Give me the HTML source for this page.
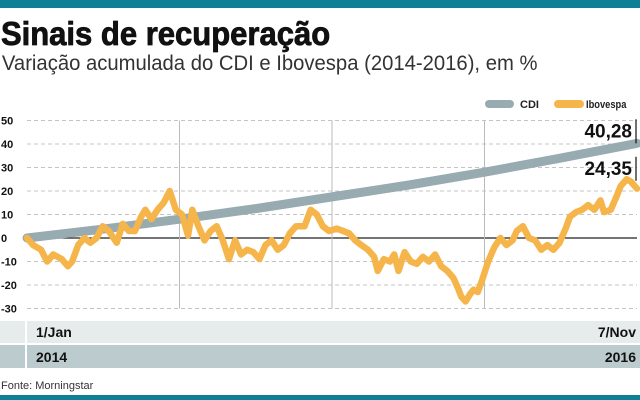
<!DOCTYPE html>
<html><head><meta charset="utf-8"><style>
body{margin:0;width:640px;height:400px;overflow:hidden;background:#fff;font-family:"Liberation Sans",sans-serif}
svg{display:block}
</style></head><body>
<svg id="c" width="640" height="400">
<rect x="0" y="0" width="640" height="8" fill="#0e7f95"/>
<text x="1" y="45" font-size="33" font-weight="bold" fill="#111" stroke="#111" stroke-width="0.8" transform="scale(0.94,1)">Sinais de recuperação</text>
<text x="2" y="70" font-size="21" fill="#333" transform="scale(0.965,1)">Variação acumulada do CDI e Ibovespa (2014-2016), em %</text>
<g>
<line x1="489" y1="104" x2="510" y2="104" stroke="#97abb0" stroke-width="8" stroke-linecap="round"/>
<text x="520" y="108" font-size="11" font-weight="bold" fill="#222">CDI</text>
<line x1="558" y1="104" x2="580" y2="104" stroke="#f5b54a" stroke-width="8" stroke-linecap="round"/>
<text x="586" y="108" font-size="11" font-weight="bold" fill="#222" transform="translate(586 0) scale(0.85,1) translate(-586 0)">Ibovespa</text>
</g>
<g id="grid"></g>
<g id="series"></g>
<rect x="0" y="321" width="640" height="22" fill="#e6ebec"/>
<rect x="0" y="345" width="640" height="23" fill="#bccbce"/>
<rect x="25" y="321" width="2" height="47" fill="#fff"/>
<text x="36" y="337" font-size="14" font-weight="bold" fill="#111">1/Jan</text>
<text x="636" y="337" font-size="14" font-weight="bold" fill="#111" text-anchor="end">7/Nov</text>
<text x="36" y="362" font-size="14" font-weight="bold" fill="#111">2014</text>
<text x="636" y="362" font-size="14" font-weight="bold" fill="#111" text-anchor="end">2016</text>
<text x="1" y="389" font-size="11" fill="#333">Fonte: Morningstar</text>
<rect x="0" y="395" width="640" height="5" fill="#0e7f95"/>
</svg>
<script>
const yTicks=[50,40,30,20,10,0,-10,-20,-30];
const cdiT=[0,12.5,25,37.5,50,62.5,75,87.5,100];
const cdiV=[0,3.8,8,12.5,17.5,22.5,28,34,40.28];
const iboT=[0,1,2.3,3.3,4.3,5.7,6.7,7.4,8.4,9.4,10.4,11.4,12.4,13.4,14.7,15.7,16.7,17.7,18.7,19.4,20.4,21.4,22.4,23.4,24.4,25.4,26.4,27.1,28.1,29.1,30.1,31.1,32.1,33.1,34.1,35.1,36.1,37.1,38.1,39.1,40.1,41.1,42.1,43.1,44.1,45.5,46.5,47.5,48.5,49.5,50.8,51.8,52.8,53.8,54.8,55.9,56.9,57.5,58.5,59.5,60.2,60.9,61.9,62.9,63.9,64.9,65.9,66.9,67.9,68.9,69.9,70.6,71.2,71.9,72.6,73.2,73.9,74.6,75.6,76.6,77.6,78.6,79.6,80.3,81.3,82.3,83.3,84.3,85.3,86.3,87.3,88.3,89,90,91,92,93,94,94.6,95.7,96.7,97.3,98.3,99,100];
const iboV=[0,-3,-5,-10,-7,-9,-12,-10,-3,0,-2,0,5,3,-2,6,3,3,9,12,8,12,15,20,12,10,1,12,5,-1,3,5,-1,-9,-1,-7,-5,-6,-9,-3,-1,-5,-3,2,5,5,12,10,5,3,4,3,2,-1,-3,-5,-8,-14,-9,-10,-7,-14,-6,-10,-11,-8,-10,-7,-12,-14,-17,-21,-25,-27,-24,-22,-23,-18,-10,-4,0,-3,-1,3,5,0,-1,-5,-3,-5,-2,4,9,11,12,14,12,16,11,12,18,22,25,24,21];
const labels=[["40,28",40.28],["24,35",24.35]];
const X0=27,X1=637;
const xs=t=>X0+(X1-X0)*t/100;
const ys=v=>238-v*2.35;
const NS="http://www.w3.org/2000/svg";
const grid=document.getElementById('grid'),ser=document.getElementById('series');
function mk(tag,a,p){const e=document.createElementNS(NS,tag);for(const k in a)e.setAttribute(k,a[k]);p.appendChild(e);return e;}
yTicks.forEach(v=>{
 const l=mk('line',{x1:X0,x2:X1,y1:ys(v),y2:ys(v),stroke:v===0?'#222':'#c4c4c4','stroke-width':v===0?1.3:1,'stroke-dasharray':v===0?'':'4,3'},grid);
 
 
 const t=mk('text',{x:1,y:ys(v)+4,'font-size':11,'font-weight':'bold',fill:'#111'},grid);
 t.textContent=v;
 
 
});
[25,50,75].forEach(t=>{
 const l=mk('line',{x1:xs(t),x2:xs(t),y1:ys(50),y2:ys(-30),stroke:'#bbb','stroke-width':1},grid);
 
 
});
const cd=cdiT.map((t,i)=>xs(t)+','+ys(cdiV[i])).join(' ');
const cl=mk('polyline',{points:cd,fill:'none',stroke:'#97abb0','stroke-width':9,'stroke-linecap':'round','stroke-linejoin':'round'},ser);


const ib=iboT.map((t,i)=>xs(t)+','+ys(iboV[i])).join(' ');
const il=mk('polyline',{points:ib,fill:'none',stroke:'#f5b54a','stroke-width':6.5,'stroke-linecap':'round','stroke-linejoin':'round'},ser);


labels.forEach(([s,v])=>{
 const t=mk('text',{x:632,y:ys(v)-6,'font-size':19,'font-weight':'bold',fill:'#111','text-anchor':'end'},ser);
 t.textContent=s;
 
 
 const l=mk('line',{x1:636,x2:636,y1:ys(v)-24,y2:ys(v),stroke:'#111','stroke-width':1.2},ser);
 
 
});
</script>
</body></html>
